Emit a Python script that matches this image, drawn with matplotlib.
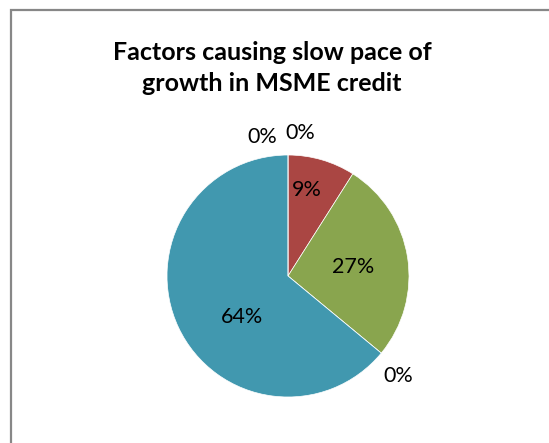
import numpy as np
import matplotlib.pyplot as plt
from matplotlib.patches import Rectangle

# data
categories = ["A", "B", "C", "D", "E", "F"]
values = [0, 9, 27, 0, 64, 0]
labels = ["0%", "9%", "27%", "0%", "64%", "0%"]
colors = ["#4572A7", "#AA4643", "#89A54E", "#71588F", "#4198AF", "#DB843D"]

W, H = 549, 443
fig = plt.figure(figsize=(W / 100, H / 100), dpi=100)

# chart border
fig.patches.append(Rectangle((11 / W, -0.1), 1.2, 1 - 10 / H + 0.1, transform=fig.transFigure,
                             fill=False, edgecolor="#878787", linewidth=1.6))

fig.text(272 / W, 1 - 68 / H, "Factors causing slow pace of\ngrowth in MSME credit",
         ha="center", va="center", fontsize=18, fontweight="bold", family="Lato",
         linespacing=1.45)

cx, cy, r = 288, 276, 121
ax = fig.add_axes([(cx - r) / W, (H - cy - r) / H, 2 * r / W, 2 * r / H])
wedges, _ = ax.pie(values, colors=colors, startangle=90, counterclock=False, radius=1,
                   wedgeprops=dict(edgecolor="white", linewidth=0.5))
ax.set_xlim(-1, 1)
ax.set_ylim(-1, 1)
ax.axis("off")

# label placement: radial distance and angle nudge per slice (Excel best fit)
dist = [1.19, 0.73, 0.54, 1.23, 0.51, 1.17]
nudge = [-4.8, 3.7, -1.0, -2.7, 17.0, 10.6]
for i, w in enumerate(wedges):
    ang = np.deg2rad((w.theta1 + w.theta2) / 2 + nudge[i])
    ax.text(dist[i] * np.cos(ang), dist[i] * np.sin(ang), labels[i],
            ha="center", va="center", fontsize=15.5, family="Lato")

plt.savefig("out.png", dpi=100)
